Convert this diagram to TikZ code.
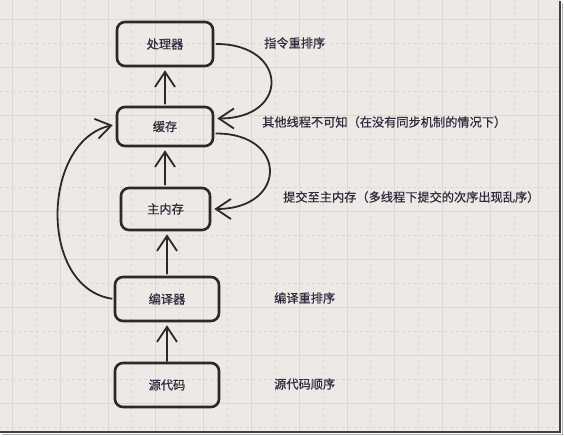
\documentclass[tikz,border=0pt]{standalone}
\usepackage{fontspec}
\newfontfamily\cjk{Noto Sans CJK SC}[FakeBold=0.6]
\usetikzlibrary{arrows.meta}
\definecolor{paper}{HTML}{ECE9E6}
\definecolor{gridln}{HTML}{DAD7D4}
\definecolor{ink}{HTML}{2A2A2A}
\definecolor{txt}{HTML}{302A3C}

\begin{document}
\begin{tikzpicture}[x=1pt, y=-1pt,
  box/.style={draw=ink, line width=2.6pt, rounded corners=8pt, text=txt,
    font=\cjk\fontsize{12.2}{14}\selectfont, inner sep=0pt},
  note/.style={right, inner sep=0pt, text=txt, font=\cjk\fontsize{12.2}{14}\selectfont},
  flow/.style={draw=ink, line width=1.8pt, line cap=round,
    -{Straight Barb[length=15pt, width=20pt]}, shorten >=3pt, shorten <=2pt},
]

  % -- Paper and grid --
  \useasboundingbox (0,0) rectangle (564,436);
  \fill[white] (0,0) rectangle (564,436);
  \fill[paper] (0,0) rectangle (560,432);
  \foreach \i in {0,2,...,22}
    \draw[gridln, line width=0.8pt] ({12.3+\i*23.9},0) -- ({12.3+\i*23.9},432);
  \foreach \i in {1,3,...,21}
    \draw[gridln, line width=0.8pt, dash pattern=on 3pt off 3pt] ({12.3+\i*23.9},0) -- ({12.3+\i*23.9},432);
  \foreach \j in {0,2,...,16}
    \draw[gridln, line width=0.8pt] (0,{19+\j*24}) -- (560,{19+\j*24});
  \foreach \j in {1,3,...,17}
    \draw[gridln, line width=0.8pt, dash pattern=on 3pt off 3pt] (0,{19+\j*24}) -- (560,{19+\j*24});
  \draw[black!30, line width=1.5pt] (562.5,3) -- (562.5,434.5) -- (2,434.5);
  \draw[black!75, line width=2pt] (560,1) -- (560,432) -- (0,432);

  % -- Boxes --
  \node[box, minimum width=96pt, minimum height=44pt] (cpu) at (165,44) {处理器};
  \node[box, minimum width=96pt, minimum height=39pt] (cache) at (165,126.5) {缓存};
  \node[box, minimum width=89pt, minimum height=42pt] (mem) at (165.5,209) {主内存};
  \node[box, minimum width=104pt, minimum height=44pt] (comp) at (167,299) {编译器};
  \node[box, minimum width=104pt, minimum height=44pt] (src) at (167,385) {源代码};

  % -- Notes --
  \node[note] (n1) at (264,43) {指令重排序};
  \node[note] (n2) at (262,122) {其他线程不可知（在没有同步机制的情况下）};
  \node[note] (n3) at (283,197) {提交至主内存（多线程下提交的次序出现乱序）};
  \node[note] (n4) at (274,298) {编译重排序};
  \node[note] (n5) at (274,384) {源代码顺序};

  % -- Upward flow --
  \draw[flow] (src.north) -- (comp.north |- src.north) -- (comp.south);
  \draw[flow] (comp.north) -- (comp.north |- mem.south);
  \draw[flow] (mem.north -| cache.north) -- (cache.south);
  \draw[flow] (cache.north) -- (cpu.south);

  % -- Curved paths --
  \draw[flow] (cpu.east) .. controls +(74,0) and +(76,0) .. ([yshift=8pt]cache.east);
  \draw[flow] ([yshift=-7pt]cache.east) .. controls +(74,0) and +(76,0) .. (mem.east);
  \draw[flow] (comp.west) .. controls +(-76,-12) and +(-74,16) .. ([yshift=2pt]cache.west);

\end{tikzpicture}
\end{document}
